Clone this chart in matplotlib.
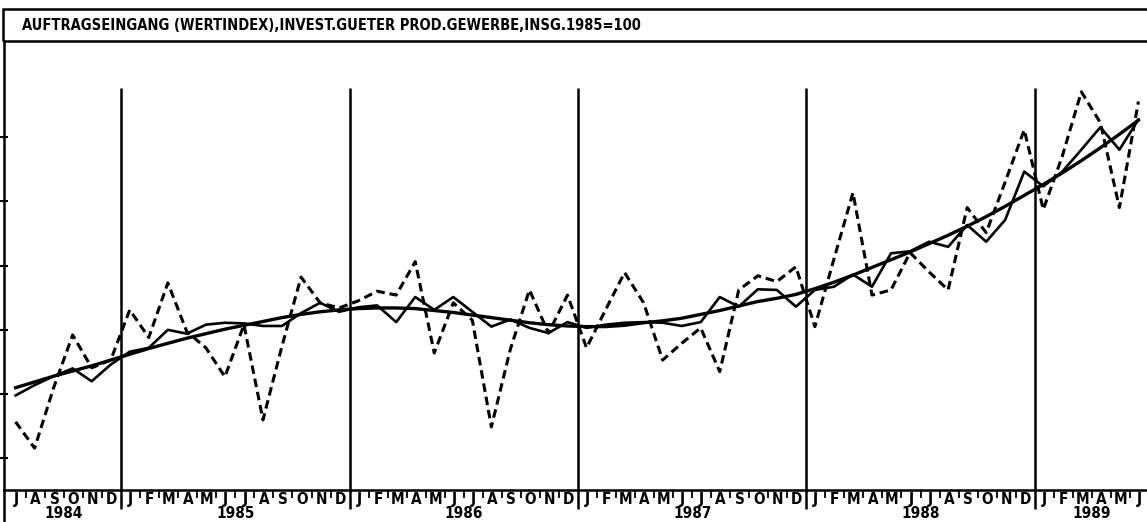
import matplotlib
matplotlib.use("Agg")
from matplotlib import pyplot as plt
from matplotlib import font_manager
from matplotlib.patches import Rectangle

# data: monthly values Jul 1984 .. Jun 1989 (index, 1985=100)
title = "AUFTRAGSEINGANG (WERTINDEX),INVEST.GUETER PROD.GEWERBE,INSG.1985=100"
month_letters = ["J", "F", "M", "A", "M", "J", "J", "A", "S", "O", "N", "D"]
years = ["1984", "1985", "1986", "1987", "1988", "1989"]

original = [85.7, 81.6, 91.0, 99.2, 94.1, 95.3,
            103.1, 98.8, 107.3, 99.7, 97.2, 92.7, 100.8, 86.0, 97.5, 108.2, 104.2, 103.4,
            104.5, 106.0, 105.4, 110.6, 96.4, 104.2, 101.5, 84.9, 97.0, 106.2, 99.5, 105.4,
            97.2, 103.1, 108.9, 104.2, 95.3, 97.9, 100.3, 93.5, 106.2, 108.4, 107.5, 109.8,
            100.5, 111.0, 121.3, 105.4, 106.2, 112.0, 109.0, 106.2, 119.0, 115.1, 123.0, 131.1,
            118.7, 127.0, 137.0, 132.2, 119.0, 135.5]

smoothed = [89.8, 91.4, 92.8, 94.0, 92.0, 94.6,
            96.6, 97.2, 100.0, 99.4, 100.8, 101.1, 101.0, 100.6, 100.6, 102.6, 104.2, 102.8,
            103.5, 103.8, 101.2, 105.1, 103.1, 105.1, 102.8, 100.5, 101.6, 100.3, 99.5, 101.2,
            100.3, 100.8, 101.1, 101.2, 101.1, 100.6, 101.2, 105.1, 103.6, 106.3, 106.2, 103.6,
            106.2, 106.7, 108.6, 106.7, 111.9, 112.2, 113.7, 112.9, 116.3, 113.7, 117.1, 124.6,
            122.3, 124.6, 128.0, 131.5, 128.0, 132.7]

trend = [91.0, 91.9, 92.8, 93.6, 94.4, 95.3,
         96.2, 97.1, 97.9, 98.7, 99.4, 100.1, 100.7, 101.3, 101.9, 102.4, 102.8, 103.1,
         103.3, 103.4, 103.4, 103.3, 103.0, 102.7, 102.3, 101.9, 101.5, 101.1, 100.8, 100.6,
         100.5, 100.5, 100.7, 101.1, 101.4, 101.8, 102.4, 103.0, 103.7, 104.4, 104.9, 105.5,
         106.4, 107.4, 108.5, 109.7, 110.9, 112.1, 113.4, 114.7, 116.1, 117.6, 119.2, 120.9,
         122.6, 124.4, 126.3, 128.3, 130.4, 132.6]

# pick a narrow bold face if one is installed
fonts = font_manager.fontManager.ttflist
names = {f.name for f in fonts}
if "Liberation Sans Narrow" in names:
    fam, stretch, tsize = "Liberation Sans Narrow", "normal", 11.5
elif any(f.name == "DejaVu Sans" and "ondensed" in str(f.stretch) for f in fonts):
    fam, stretch, tsize = "DejaVu Sans", "condensed", 10.5
elif "Roboto Condensed" in names:
    fam, stretch, tsize = "Roboto Condensed", "normal", 11
else:
    fam, stretch, tsize = "DejaVu Sans", "normal", 9.6
plt.rcParams['font.family'] = [fam, 'DejaVu Sans']
plt.rcParams['font.stretch'] = stretch

first_month = 6  # July
n = len(original)
x = [i + 0.45 for i in range(n)]
month_labels = [month_letters[(first_month + i) % 12] for i in range(n)]
year_breaks = [i for i in range(1, n) if (first_month + i) % 12 == 0]

W, H = 1147, 522
fig = plt.figure(figsize=(W / 100, H / 100), dpi=100)
ax = fig.add_axes([4 / W, 32 / H, 1143 / W, 449 / H])

ax.plot(x, original, color="black", lw=2.2, linestyle=(0, (2.8, 1.6)))
ax.plot(x, smoothed, color="black", lw=1.9)
ax.plot(x, trend, color="black", lw=2.4)
ax.vlines(year_breaks, 75.1, 137.6, color="black", lw=1.8)

ax.set_xlim(-0.158, 59.9)
ax.set_ylim(75.1, 144.9)

for s in ["top", "right"]:
    ax.spines[s].set_visible(False)
ax.spines["left"].set_linewidth(1.8)
ax.spines["bottom"].set_linewidth(1.8)

ax.set_yticks([80, 90, 100, 110, 120, 130])
ax.set_yticklabels([])
ax.tick_params(axis="y", direction="inout", length=6, width=1.5)
ax.set_xticks(year_breaks)
ax.set_xticklabels([])
ax.set_xticks(range(1, n), minor=True)
ax.tick_params(axis="x", which="major", direction="out", length=14, width=1.8)
ax.tick_params(axis="x", which="minor", direction="out", length=6, width=1.3)

# month letters and year labels below the axis
for i, lab in enumerate(month_labels):
    ax.text(i + 0.5, -9.5 / 449, lab, ha="center", va="center", fontsize=11,
            fontweight="bold", transform=ax.get_xaxis_transform())
edges = [0] + year_breaks + [n]
for k, yr in enumerate(years):
    ax.text((edges[k] + edges[k + 1]) / 2, -24 / 449, yr, ha="center", va="center",
            fontsize=11, fontweight="bold", transform=ax.get_xaxis_transform())

# left line continues below the axis
fig.add_artist(plt.Line2D([4 / W, 4 / W], [0, 32 / H], color="black", lw=1.8))

# title box
fig.add_artist(Rectangle((3 / W, (H - 41) / H), 1.01, 32 / H, fill=False,
                         edgecolor="black", lw=1.8))
fig.text(22 / W, (H - 25) / H, title, ha="left", va="center", fontsize=tsize,
         fontweight="bold")

fig.savefig("out.png", dpi=100)
